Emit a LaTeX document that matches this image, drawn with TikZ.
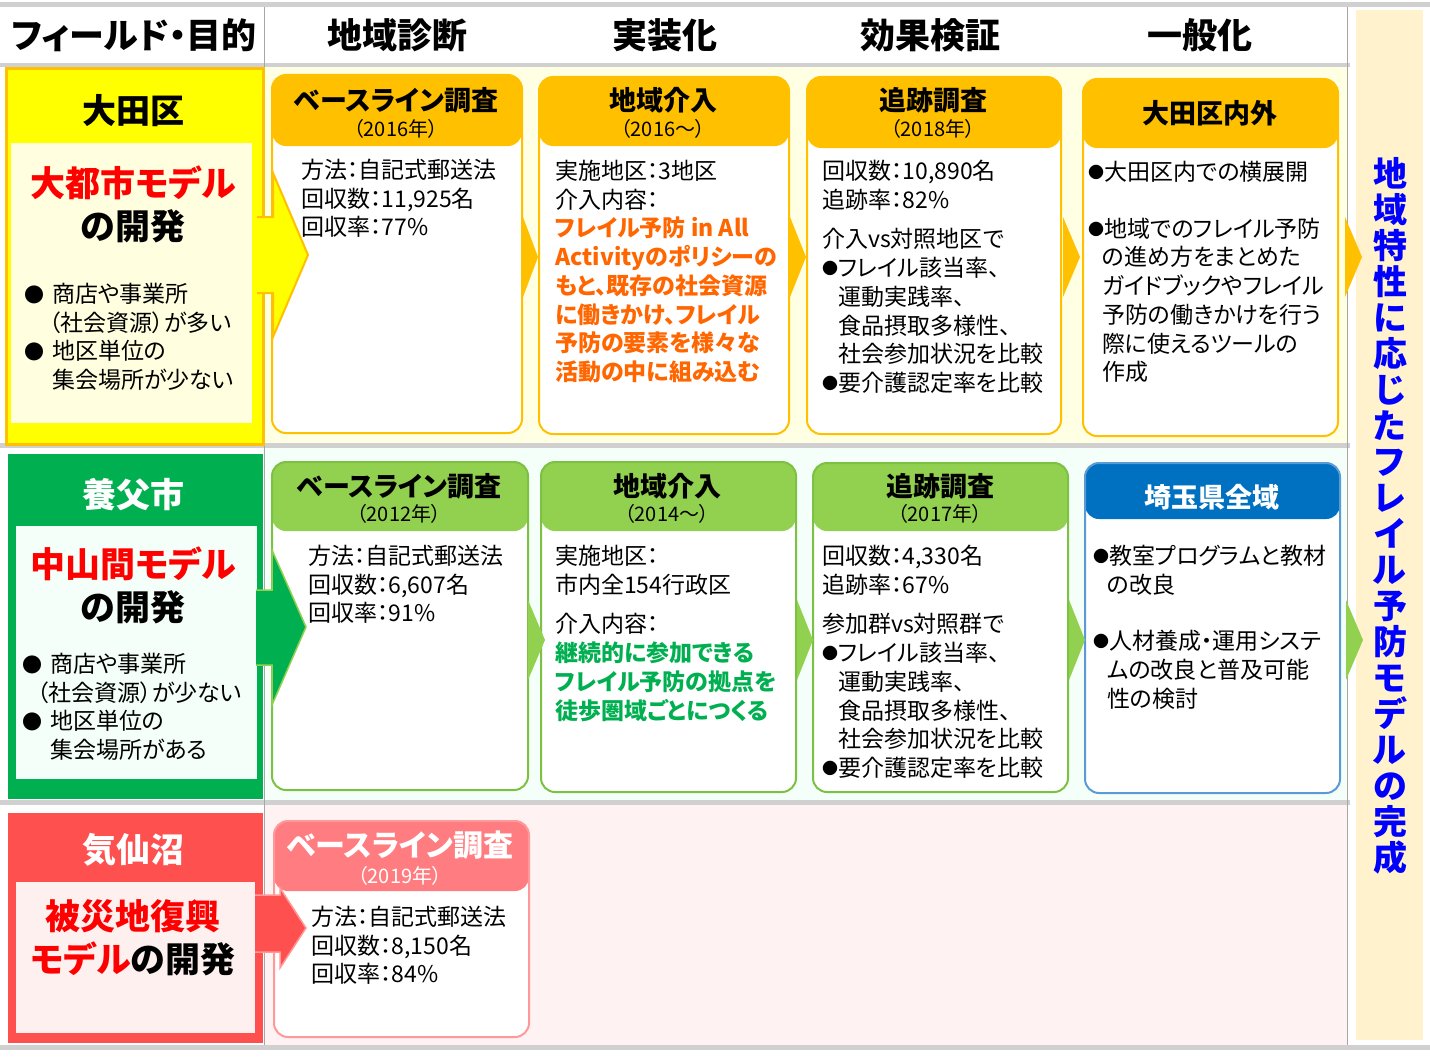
\documentclass[tikz,border=0pt]{standalone}
\usepackage{fontspec}
\setmainfont{Noto Sans CJK JP}[RawFeature=+palt]
\usetikzlibrary{positioning}

\definecolor{gold}{HTML}{FFC000}
\definecolor{lemon}{HTML}{FFFF00}
\definecolor{rowY}{HTML}{FFFFE3}
\definecolor{rowG}{HTML}{F5FFF9}
\definecolor{rowR}{HTML}{FFF2F2}
\definecolor{panelY}{HTML}{FFFFE0}
\definecolor{panelG}{HTML}{F5FFF9}
\definecolor{panelR}{HTML}{FFF0F0}
\definecolor{sepgray}{HTML}{D0D0D0}
\definecolor{linegray}{HTML}{A6A6A6}
\definecolor{beige}{HTML}{FFF2CC}
\definecolor{fieldG}{HTML}{00B050}
\definecolor{fieldR}{HTML}{FF5050}
\definecolor{leaf}{HTML}{92D050}
\definecolor{leafline}{HTML}{7DC142}
\definecolor{navy}{HTML}{0070C0}
\definecolor{skyline}{HTML}{5B9BD5}
\definecolor{rose}{HTML}{FF7C80}
\definecolor{roseline}{HTML}{FF9999}
\definecolor{ornge}{HTML}{FF6600}
\definecolor{grntxt}{HTML}{00B050}
\definecolor{redtxt}{HTML}{FF0000}
\definecolor{bluetxt}{HTML}{0000FF}

\newcommand{\bul}{\raisebox{2pt}{\makebox[16pt][l]{\fontsize{16}{16}\selectfont ●}}}
\newcommand{\fbul}{\makebox[28pt][l]{\fontsize{20}{20}\selectfont ●}}

\tikzset{
  headtxt/.style={font=\bfseries\fontsize{35}{40}\selectfont},
  fieldbox/.style={rectangle, anchor=north west, inner sep=0pt, line width=3pt},
  panel/.style={rectangle, anchor=north west, inner sep=0pt},
  fname/.style={font=\bfseries\fontsize{34}{38}\selectfont},
  fgoal/.style={align=center, font=\bfseries\fontsize{35}{43}\selectfont},
  fnote/.style={anchor=north west, inner sep=0pt, align=left, font=\fontsize{23}{28.5}\selectfont},
  phase/.style n args={3}{rectangle, rounded corners=14pt, anchor=north west, inner sep=0pt,
    fill=white, draw=#2, line width=2pt,
    path picture={\fill[#1] (path picture bounding box.north west) rectangle
      ([yshift=-#3]path picture bounding box.north east);}},
  ttl/.style={font=\bfseries\fontsize{27}{30}\selectfont},
  yr/.style={font=\fontsize{20}{22}\selectfont},
  body/.style={anchor=north west, inner sep=0pt, align=left, font=\fontsize{23}{28.7}\selectfont},
}

\begin{document}
\begin{tikzpicture}[x=1pt,y=-1pt]
  \useasboundingbox (0,0) rectangle (1430,1057);

  % row backgrounds and rules
  \fill[rowY] (264,67) rectangle (1347,443);
  \fill[rowG] (264,448) rectangle (1347,800);
  \fill[rowR] (264,805) rectangle (1347,1045);
  \fill[sepgray] (0,2) rectangle (1430,7);
  \fill[sepgray] (0,63) rectangle (1350,67);
  \fill[sepgray] (0,443) rectangle (1350,448);
  \fill[sepgray] (0,800) rectangle (1350,805);
  \fill[sepgray] (0,1045) rectangle (1430,1050);
  \draw[linegray, line width=1pt] (264,7) -- (264,1045);
  \draw[linegray, line width=1pt] (1347,7) -- (1347,1045);
  \fill[beige] (1356,10) rectangle (1423,1040);

  % column heads
  \node[headtxt] (hField) at (134,35) {フィールド・目的};
  \node[headtxt] (hDiag) at (397,35) {地域診断};
  \node[headtxt] (hImpl) at (665,35) {実装化};
  \node[headtxt] (hEval) at (930,35) {効果検証};
  \node[headtxt] (hGen) at (1200,35) {一般化};

  % fields
  \node[fieldbox, fill=lemon, draw=gold, minimum width=257pt, minimum height=376pt] (fOta) at (5,67) {};
  \node[panel, fill=panelY, minimum width=241pt, minimum height=280pt] (pOta) at (11,143) {};
  \node[fname] (nOta) at (133,111) {大田区};
  \node[fgoal] (gOta) at (133,204.5) {\textcolor{redtxt}{大都市モデル}\\の開発};
  \node[fnote] (xOta) at (24,283) {\fbul 商店や事業所\\\hspace*{25pt}（社会資源）が多い\\\fbul 地区単位の\\\hspace*{28pt}集会場所が少ない};

  \node[fieldbox, fill=fieldG, draw=fieldG, minimum width=252pt, minimum height=342pt] (fYabu) at (8,454) {};
  \node[panel, fill=panelG, minimum width=241pt, minimum height=253pt] (pYabu) at (16,526) {};
  \node[fname, white] (nYabu) at (133,495) {養父市};
  \node[fgoal] (gYabu) at (133,585) {\textcolor{redtxt}{中山間モデル}\\の開発};
  \node[fnote] (xYabu) at (22,653) {\fbul 商店や事業所\\\hspace*{15pt}（社会資源）が少ない\\\fbul 地区単位の\\\hspace*{28pt}集会場所がある};

  \node[fieldbox, fill=fieldR, draw=fieldR, minimum width=252pt, minimum height=227pt] (fKese) at (8,813) {};
  \node[panel, fill=panelR, minimum width=239pt, minimum height=151pt] (pKese) at (16,882) {};
  \node[fname, white] (nKese) at (133,850) {気仙沼};
  \node[fgoal] (gKese) at (133,937.5) {\textcolor{redtxt}{被災地復興}\\\textcolor{redtxt}{モデル}の開発};

  % Ota row
  \node[phase={gold}{gold}{71pt}, minimum width=250pt, minimum height=358pt] (b11) at (271,74) {};
  \node[ttl] (t11) at (396,100) {ベースライン調査};
  \node[yr] (y11) at (396,129) {（2016年）};
  \node[body] (d11) at (301,159) {方法：自記式郵送法\\回収数：11,925名\\回収率：77\%};

  \node[phase={gold}{gold}{69pt}, minimum width=250pt, minimum height=357pt] (b12) at (538,76) {};
  \node[ttl] (t12) at (663,100) {地域介入};
  \node[yr] (y12) at (663,129) {（2016～）};
  \node[body] (d12) at (555,160) {実施地区：3地区\\介入内容：\\
    \textcolor{ornge}{\bfseries フレイル予防 in All}\\
    \textcolor{ornge}{\bfseries Activityのポリシーの}\\
    \textcolor{ornge}{\bfseries もと、既存の社会資源}\\
    \textcolor{ornge}{\bfseries に働きかけ、フレイル}\\
    \textcolor{ornge}{\bfseries 予防の要素を様々な}\\
    \textcolor{ornge}{\bfseries 活動の中に組み込む}};

  \node[phase={gold}{gold}{71pt}, minimum width=254pt, minimum height=357pt] (b13) at (806,76) {};
  \node[ttl] (t13) at (933,100) {追跡調査};
  \node[yr] (y13) at (933,129) {（2018年）};
  \node[body] (d13) at (822,160) {回収数：10,890名\\追跡率：82\%\\[11pt]介入vs対照地区で\\
    \bul フレイル該当率、\\\hspace*{16pt}運動実践率、\\\hspace*{16pt}食品摂取多様性、\\
    \hspace*{16pt}社会参加状況を比較\\\bul 要介護認定率を比較};

  \node[phase={gold}{gold}{69pt}, minimum width=255pt, minimum height=357pt] (b14) at (1082,78) {};
  \node[ttl] (t14) at (1210,113) {大田区内外};
  \node[body] (d14) at (1088,161) {\bul 大田区内での横展開\\[28pt]\bul 地域でのフレイル予防\\
    \hspace*{14pt}の進め方をまとめた\\\hspace*{14pt}ガイドブックやフレイル\\
    \hspace*{14pt}予防の働きかけを行う\\\hspace*{14pt}際に使えるツールの\\\hspace*{14pt}作成};

  % Yabu row
  \node[phase={leaf}{leafline}{69pt}, minimum width=256pt, minimum height=328pt] (b21) at (271,461) {};
  \node[ttl] (t21) at (399,486) {ベースライン調査};
  \node[yr] (y21) at (399,514) {（2012年）};
  \node[body] (d21) at (308,545) {方法：自記式郵送法\\回収数：6,607名\\回収率：91\%};

  \node[phase={leaf}{leafline}{69pt}, minimum width=255pt, minimum height=330pt] (b22) at (540,461) {};
  \node[ttl] (t22) at (667,486) {地域介入};
  \node[yr] (y22) at (667,514) {（2014～）};
  \node[body] (d22) at (555,545) {実施地区：\\市内全154行政区\\[11pt]介入内容：\\
    \textcolor{grntxt}{\bfseries 継続的に参加できる}\\
    \textcolor{grntxt}{\bfseries フレイル予防の拠点を}\\
    \textcolor{grntxt}{\bfseries 徒歩圏域ごとにつくる}};

  \node[phase={leaf}{leafline}{68pt}, minimum width=255pt, minimum height=329pt] (b23) at (812,462) {};
  \node[ttl] (t23) at (940,486) {追跡調査};
  \node[yr] (y23) at (940,514) {（2017年）};
  \node[body] (d23) at (822,545) {回収数：4,330名\\追跡率：67\%\\[11pt]参加群vs対照群で\\
    \bul フレイル該当率、\\\hspace*{16pt}運動実践率、\\\hspace*{16pt}食品摂取多様性、\\
    \hspace*{16pt}社会参加状況を比較\\\bul 要介護認定率を比較};

  \node[phase={navy}{skyline}{56pt}, minimum width=255pt, minimum height=330pt] (b24) at (1084,462) {};
  \node[ttl, white] (t24) at (1212,497) {埼玉県全域};
  \node[body] (d24) at (1093,545) {\bul 教室プログラムと教材\\\hspace*{14pt}の改良\\[28pt]
    \bul 人材養成・運用システ\\\hspace*{14pt}ムの改良と普及可能\\\hspace*{14pt}性の検討};

  % Kesennuma row
  \node[phase={rose}{roseline}{70pt}, minimum width=255pt, minimum height=216pt] (b31) at (273,820) {};
  \node[ttl, white, font=\bfseries\fontsize{30}{32}\selectfont] (t31) at (400,845) {ベースライン調査};
  \node[yr, white] (y31) at (400,876) {（2019年）};
  \node[body] (d31) at (311,906) {方法：自記式郵送法\\回収数：8,150名\\回収率：84\%};

  % step chevrons
  \fill[gold] (523,217) -- (538,257) -- (523,297) -- cycle;
  \fill[gold] (790,217) -- (806,257) -- (790,297) -- cycle;
  \fill[gold] (1063,217) -- (1080,257) -- (1063,297) -- cycle;
  \fill[gold] (1345,217) -- (1362,257) -- (1345,297) -- cycle;
  \fill[leaf] (528,600) -- (545,640) -- (528,680) -- cycle;
  \fill[leaf] (797,600) -- (813,640) -- (797,680) -- cycle;
  \fill[leaf] (1069,600) -- (1085,640) -- (1069,680) -- cycle;
  \fill[leaf] (1346,600) -- (1363,640) -- (1346,680) -- cycle;

  % field arrows
  \draw[fill=lemon, draw=gold, line width=2pt, line join=miter]
    (257,217) -- (273,217) -- (273,173) -- (308,255) -- (273,337) -- (273,293) -- (257,293);
  \draw[fill=fieldG, draw=leaf, line width=1.5pt, line join=miter]
    (256,590) -- (272,590) -- (272,550) -- (306,627) -- (272,705) -- (272,665) -- (256,665);
  \draw[fill=fieldR, draw=roseline, line width=1.5pt, line join=miter]
    (255,895) -- (280,895) -- (280,888) -- (306,928) -- (280,968) -- (280,952) -- (255,952);

  % outcome
  \node[align=center, text=bluetxt, font=\bfseries\fontsize{34}{36}\selectfont] (goal) at (1390,516)
    {地\\域\\特\\性\\に\\応\\じ\\た\\フ\\レ\\イ\\ル\\予\\防\\モ\\デ\\ル\\の\\完\\成};
\end{tikzpicture}
\end{document}
